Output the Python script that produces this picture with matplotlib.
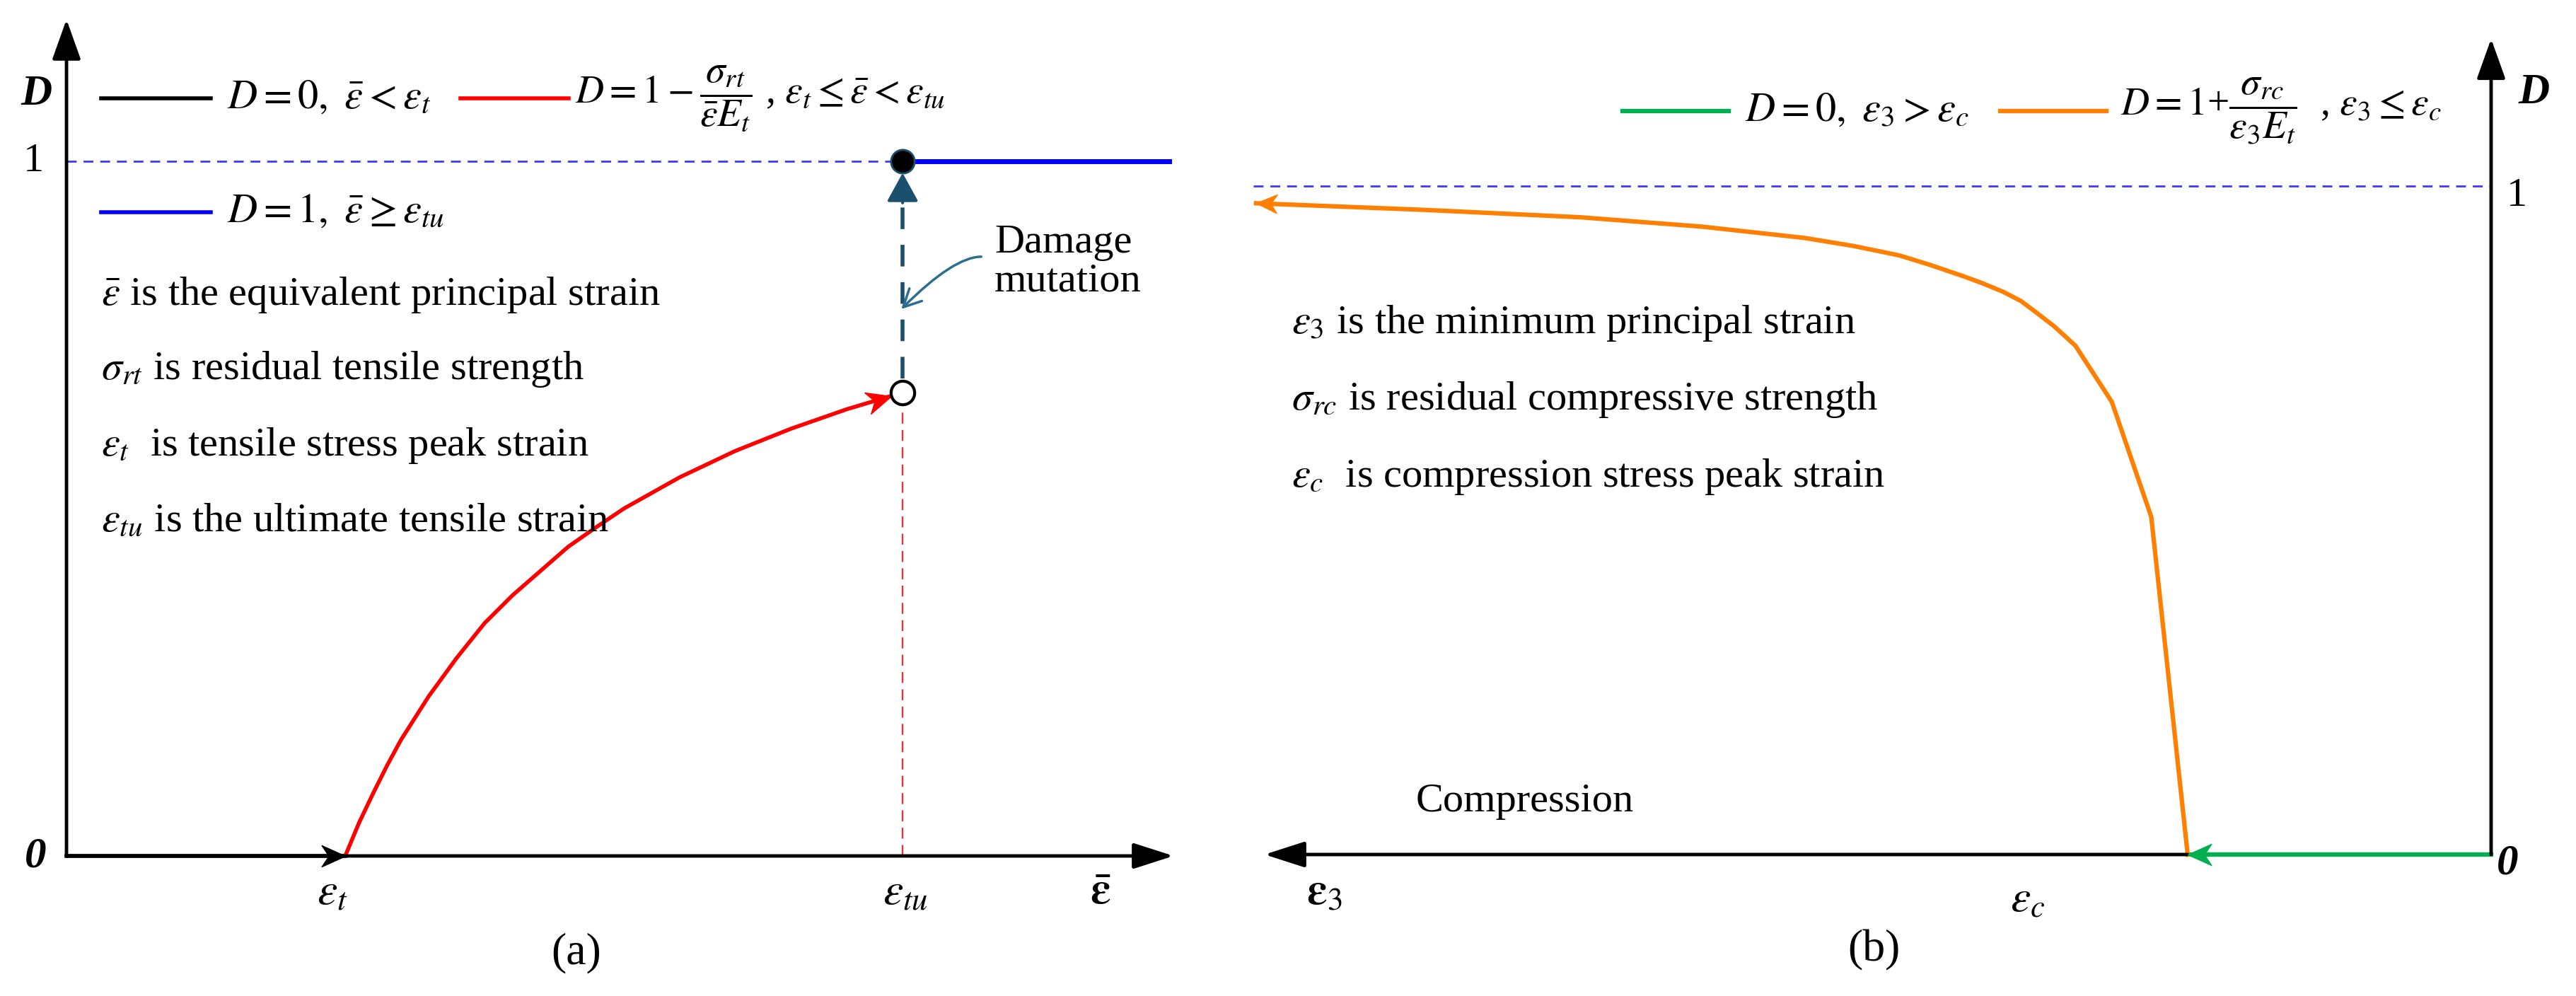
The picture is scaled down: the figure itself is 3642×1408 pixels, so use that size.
# Damage evolution sketch: (a) tension, (b) compression
import numpy as np
import matplotlib.pyplot as plt
from matplotlib.markers import MarkerStyle
from matplotlib.path import Path
from matplotlib.transforms import Affine2D

plt.rcParams['font.family'] = ['Liberation Serif', 'DejaVu Serif']
plt.rcParams['mathtext.fontset'] = 'stix'

# ---- data ----
# (a) tension: strain in units of eps_t, damage D
eps_t = 1.0
eps_tu = 3.0
tens_x = [1.0, 1.05, 1.1, 1.15, 1.2, 1.3, 1.4, 1.5, 1.6, 1.7, 1.8, 1.9,
          2.0, 2.2, 2.4, 2.6, 2.8, 3.0]
tens_d = [0.0, 0.048, 0.09, 0.13, 0.167, 0.23, 0.285, 0.335, 0.375, 0.41,
          0.445, 0.473, 0.5, 0.545, 0.583, 0.615, 0.643, 0.667]

# (b) compression: eps_3 in units of |eps_c| (negative), damage D
eps_c = -1.0
comp_x = [-4.07, -3.51, -3.0, -2.6, -2.26, -2.1, -1.95, -1.85, -1.74, -1.68,
          -1.61, -1.55, -1.50, -1.44, -1.37, -1.25, -1.12, -1.0]
comp_d = [0.974, 0.964, 0.953, 0.939, 0.922, 0.910, 0.896, 0.882, 0.865, 0.855,
          0.842, 0.828, 0.811, 0.790, 0.761, 0.677, 0.505, 0.0]

tens_text = [r'$\bar{\varepsilon}$ is the equivalent principal strain',
             r'$\sigma_{rt}$ is residual tensile strength',
             r'$\varepsilon_t$  is tensile stress peak strain',
             r'$\varepsilon_{tu}$ is the ultimate tensile strain']
comp_text = [r'$\varepsilon_3$ is the minimum principal strain',
             r'$\sigma_{rc}$ is residual compressive strength',
             r'$\varepsilon_c$  is compression stress peak strain']

FS = 42
TEAL = '#1b4f6e'

STEALTH = Path([(0, 0), (-1, 0.45), (-0.7, 0), (-1, -0.45), (0, 0)],
               [Path.MOVETO, Path.LINETO, Path.LINETO, Path.LINETO, Path.CLOSEPOLY])


def head(ax, x0, y0, x1, y1, color, size, back=0):
    # barbed arrow head with its tip at (x1, y1), pointing away from (x0, y0)
    p0 = ax.transData.transform((x0, y0))
    p1 = ax.transData.transform((x1, y1))
    ang = np.arctan2(p1[1] - p0[1], p1[0] - p0[0])
    tip = p1 - back * np.array([np.cos(ang), np.sin(ang)])
    x, y = ax.transData.inverted().transform(tip)
    m = MarkerStyle(STEALTH, transform=Affine2D().rotate(ang))
    ax.plot(x, y, marker=m, ms=size, color=color, mec=color, mew=1,
            ls='none', zorder=5)


def axis_arrow(ax, start, end, hw=0.5):
    ax.annotate('', xy=end, xytext=start,
                arrowprops=dict(arrowstyle='-|>,head_length=1.4,head_width=%g' % hw,
                                mutation_scale=25, lw=3.5, color='k',
                                shrinkA=0, shrinkB=0))


fig = plt.figure(figsize=(36.42, 14.08), dpi=100)
W = 3642

# ---------------- (a) ----------------
axa = fig.add_axes([0, 0, 1760 / W, 1])
axa.set_xlim(-0.2386, 4.228)
axa.set_ylim(-0.2016, 1.232)
axa.axis('off')

axis_arrow(axa, (0, 0), (0, 1.204))
axis_arrow(axa, (0, 0), (3.972, 0), hw=0.45)
axa.plot([0, eps_t], [0, 0], color='k', lw=4)
head(axa, 0, 0, eps_t, 0, 'k', 48)

axa.plot(tens_x, tens_d, color='red', lw=4, solid_capstyle='butt')
head(axa, tens_x[-2], tens_d[-2], tens_x[-1], tens_d[-1], 'red', 50, back=17)

axa.plot([0, eps_tu], [1, 1], color='#3a3aff', lw=2, ls=(0, (5, 3.5)))
axa.plot([eps_tu, 3.957], [1, 1], color='#0000ff', lw=5)
axa.plot([eps_tu, eps_tu], [0, tens_d[-1] - 0.02], color='#ff2a2a', lw=1.6,
         ls=(0, (7, 4)))
axa.plot([eps_tu, eps_tu], [tens_d[-1] + 0.02, 0.95], color=TEAL, lw=4,
         ls=(0, (5.5, 4)))
axa.annotate('', xy=(eps_tu, 0.983), xytext=(eps_tu, 0.94),
             arrowprops=dict(arrowstyle='-|>,head_length=1.0,head_width=0.55',
                             mutation_scale=25, lw=3, color=TEAL,
                             shrinkA=0, shrinkB=0))
axa.plot(eps_tu, 1, 'o', ms=24, mfc='k', mec=TEAL, mew=2, zorder=6)
axa.plot(eps_tu, tens_d[-1], 'o', ms=24, mfc='white', mec='k', mew=3, zorder=6)

axa.text(3.33, 0.855, 'Damage\nmutation', fontsize=FS, ha='left', va='center',
         linespacing=1.05)
axa.annotate('', xy=(2.995, 0.787), xytext=(3.282, 0.8625),
             arrowprops=dict(arrowstyle='->,head_length=0.6,head_width=0.3',
                             mutation_scale=30, lw=2.5, color='#2b6f8e',
                             connectionstyle='angle3,angleA=0,angleB=45',
                             shrinkA=0, shrinkB=0))

# legend (a)
axa.plot([0.124, 0.518], [1.0906] * 2, color='k', lw=4)
axa.text(0.576, 1.0906, r'$D=0,\ \bar{\varepsilon}<\varepsilon_t$', fontsize=FS,
         va='center')
axa.plot([1.414, 1.802], [1.0906] * 2, color='red', lw=4)
axa.text(1.825, 1.0906,
         r'$D=1-\dfrac{\sigma_{rt}}{\bar{\varepsilon}E_t}$ , $\varepsilon_t\leq\bar{\varepsilon}<\varepsilon_{tu}$',
         fontsize=FS - 2, va='center')
axa.plot([0.124, 0.518], [0.9267] * 2, color='#0000ff', lw=4)
axa.text(0.576, 0.9267, r'$D=1,\ \bar{\varepsilon}\geq\varepsilon_{tu}$', fontsize=FS,
         va='center')

for s, y in zip(tens_text, [0.8075, 0.7006, 0.5906, 0.4817]):
    axa.text(0.124, y, s, fontsize=FS, va='center')

axa.text(-0.107, 1.097, 'D', fontsize=44, fontweight='bold', style='italic',
         ha='center', va='center')
axa.text(-0.117, 1.0, '1', fontsize=FS, ha='center', va='center')
axa.text(-0.112, 0, '0', fontsize=44, fontweight='bold', style='italic',
         ha='center', va='center')
axa.text(eps_t - 0.046, -0.054, r'$\varepsilon_t$', fontsize=FS + 4, ha='center', va='center')
axa.text(eps_tu + 0.01, -0.054, r'$\varepsilon_{tu}$', fontsize=FS + 4, ha='center', va='center')
axa.text(3.71, -0.054, r'$\bar{\boldsymbol{\varepsilon}}$', fontsize=FS + 4,
         ha='center', va='center')
axa.text(1.83, -0.1395, '(a)', fontsize=46, ha='center', va='center')

# ---------------- (b) ----------------
axb = fig.add_axes([1760 / W, 0, 1882 / W, 1])
axb.set_xlim(-4.107, 0.2797)
axb.set_ylim(-0.2116, 1.278)
axb.axis('off')

axis_arrow(axb, (0, 0), (0, 1.220))
axis_arrow(axb, (eps_c, 0), (-4.042, 0), hw=0.45)
axb.plot([0, eps_c], [0, 0], color='#00b050', lw=4.5)
head(axb, 0, 0, eps_c, 0, '#00b050', 48)
axb.plot(comp_x, comp_d, color='#ff8000', lw=4.5)
head(axb, comp_x[1], comp_d[1], comp_x[0], comp_d[0], '#ff8000', 42)
axb.plot([-4.08, 0], [1, 1], color='#3a3aff', lw=2, ls=(0, (5, 3.5)))

axb.plot([-2.862, -2.513], [1.112] * 2, color='#00b050', lw=4.5)
axb.text(-2.459, 1.112, r'$D=0,\ \varepsilon_3>\varepsilon_c$', fontsize=FS, va='center')
axb.plot([-1.618, -1.268], [1.112] * 2, color='#ff8000', lw=4.5)
axb.text(-1.221, 1.112,
         r'$D=1$+$\dfrac{\sigma_{rc}}{\varepsilon_3E_t}$  , $\varepsilon_3\leq\varepsilon_c$',
         fontsize=FS - 2, va='center')

for s, y in zip(comp_text, [0.795, 0.680, 0.565]):
    axb.text(-3.953, y, s, fontsize=FS, va='center')

axb.text(-3.184, 0.079, 'Compression', fontsize=FS, ha='center', va='center')
axb.text(0.142, 1.139, 'D', fontsize=44, fontweight='bold', style='italic',
         ha='center', va='center')
axb.text(0.086, 0.985, '1', fontsize=FS, ha='center', va='center')
axb.text(0.054, -0.013, '0', fontsize=44, fontweight='bold', style='italic',
         ha='center', va='center')
axb.text(-3.844, -0.058, r'$\boldsymbol{\varepsilon}_3$', fontsize=FS + 4,
         ha='center', va='center')
axb.text(-1.527, -0.069, r'$\varepsilon_c$', fontsize=FS + 4, ha='center', va='center')
axb.text(-2.033, -0.143, '(b)', fontsize=46, ha='center', va='center')

fig.savefig('out.png', dpi=100, facecolor='white')
